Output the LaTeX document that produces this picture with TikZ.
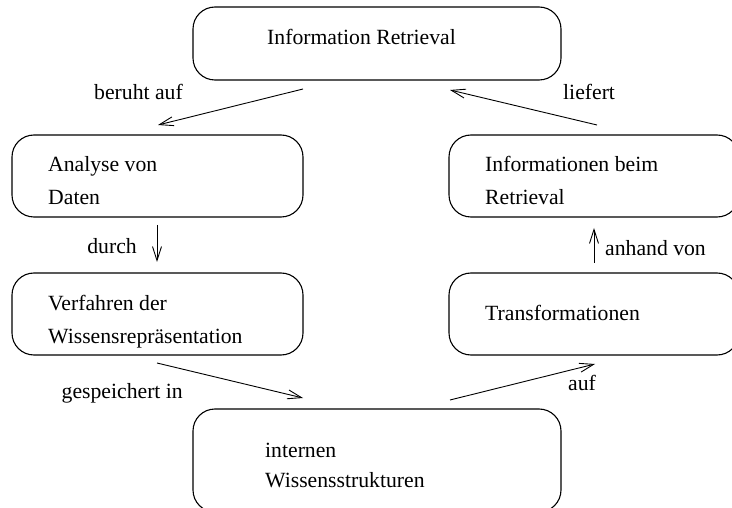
\documentclass[tikz,border=0pt]{standalone}
\usepackage{fontspec}
\setmainfont{Liberation Serif}
\usetikzlibrary{arrows.meta}
\begin{document}
\begin{tikzpicture}[x=1pt,y=-1pt,
  box/.style={draw, line width=1.1pt, rounded corners=22pt, inner sep=0pt, rectangle},
  txt/.style={anchor=base west, inner sep=0pt, font=\fontsize{21.7}{26}\selectfont},
  lbl/.style={inner sep=0pt, font=\fontsize{21.7}{26}\selectfont},
  conn/.style={line width=0.9pt, -{Straight Barb[length=14pt,width=9pt,line width=0.9pt]}}]
\useasboundingbox (0,0) rectangle (732,508);
\clip (0,0) rectangle (732,508);
% boxes
\node[box, minimum width=368pt, minimum height=73pt] (ir) at (377,43.5) {};
\node[box, minimum width=291pt, minimum height=82pt] (ad) at (157.5,176) {};
\node[box, minimum width=290pt, minimum height=82pt] (ib) at (594,176) {};
\node[box, minimum width=291pt, minimum height=82pt] (vw) at (157.5,314) {};
\node[box, minimum width=290pt, minimum height=82pt] (tr) at (594,314) {};
\node[box, minimum width=368pt, minimum height=103pt] (iw) at (377,460.5) {};
% box texts
\node[txt] (t1) at (267,45) {Information Retrieval};
\node[txt] (t2a) at (48,172) {Analyse von};
\node[txt] (t2b) at (48,205) {Daten};
\node[txt] (t3a) at (485,172) {Informationen beim};
\node[txt] (t3b) at (485,205) {Retrieval};
\node[txt] (t4a) at (48,310) {Verfahren der};
\node[txt] (t4b) at (48,343) {Wissensrepräsentation};
\node[txt] (t5) at (485,320) {Transformationen};
\node[txt] (t6a) at (265,457) {internen};
\node[txt] (t6b) at (265,487) {Wissensstrukturen};
% labels
\node[lbl, anchor=base east] (l1) at (183,100) {beruht auf};
\node[lbl, anchor=base west] (l2) at (563,100) {liefert};
\node[lbl, anchor=base east] (l3) at (137,254) {durch};
\node[lbl, anchor=base west] (l4) at (605,255) {anhand von};
\node[lbl, anchor=base east] (l5) at (183,398) {gespeichert in};
\node[lbl, anchor=base west] (l6) at (568,390) {auf};
% connector ends
\coordinate (a1s) at (303,89);
\coordinate (a1e) at (158,125);
\coordinate (a2s) at (597,125);
\coordinate (a2e) at (450,90);
\coordinate (a3s) at (157,225);
\coordinate (a3e) at (157,262);
\coordinate (a4s) at (594,263);
\coordinate (a4e) at (594,228);
\coordinate (a5s) at (157,363);
\coordinate (a5e) at (303,398);
\coordinate (a6s) at (450,400);
\coordinate (a6e) at (595,364);
\draw[conn] (a1s) -- (a1e);
\draw[conn] (a2s) -- (a2e);
\draw[conn] (a3s) -- (a3e);
\draw[conn] (a4s) -- (a4e);
\draw[conn] (a5s) -- (a5e);
\draw[conn] (a6s) -- (a6e);
\end{tikzpicture}
\end{document}
